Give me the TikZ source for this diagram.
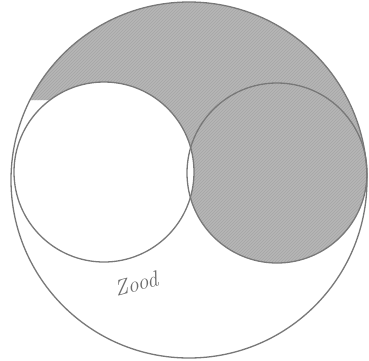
\documentclass[tikz,border=0pt]{standalone}
\usetikzlibrary{patterns}
\definecolor{pencil}{RGB}{120,120,120}
\definecolor{shade}{RGB}{182,182,182}
\tikzset{outline/.style={draw=pencil,line width=1.3pt}}
\begin{document}
\begin{tikzpicture}[x=1pt,y=-1pt]
\useasboundingbox (0,0) rectangle (369,360);
\fill[white] (0,0) rectangle (369,360);
% shaded region
\begin{scope}
  \clip (189,180) circle (178);
  \path[fill=shade,postaction={pattern=north east lines,pattern color=gray!70}]
    (0,0) -- (369,0) -- (369,173) -- (367,173)
    arc[start angle=0,end angle=180,radius=90]
    -- (150,173) -- (150,100) -- (0,100) -- cycle;
\end{scope}
\fill[white] (104,172) circle (90);
% outlines
\draw[outline] (189,180) circle (178);
\draw[outline] (277,173) circle (90);
\draw[outline] (104,172) circle (90);
\node[pencil!90!black,rotate=15,font=\itshape\fontsize{22}{24}\selectfont] (lbl) at (136,284) {Zood};
\end{tikzpicture}
\end{document}
